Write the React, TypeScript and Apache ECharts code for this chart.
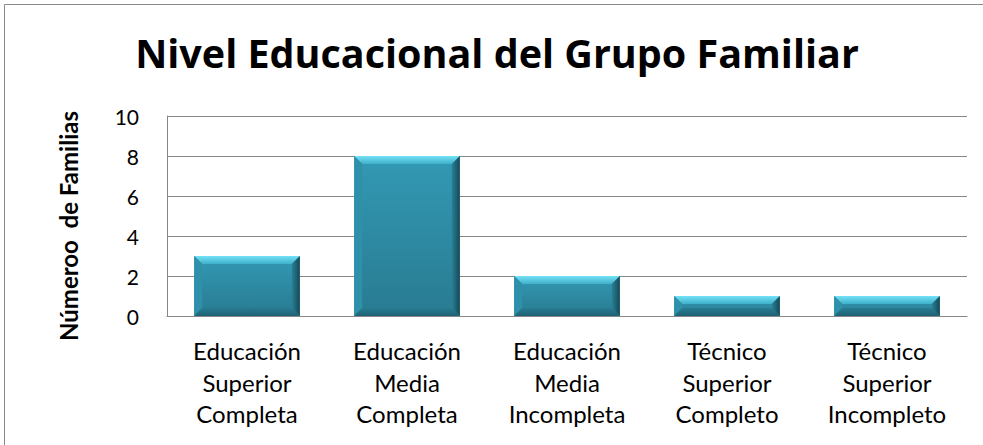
import React, { useEffect, useRef } from "react";
import * as echarts from "echarts";

const categories = [
  "Educación\nSuperior\nCompleta",
  "Educación\nMedia\nCompleta",
  "Educación\nMedia\nIncompleta",
  "Técnico\nSuperior\nCompleto",
  "Técnico\nSuperior\nIncompleto",
];
const values = [3, 8, 2, 1, 1];
const yTicks = [0, 2, 4, 6, 8, 10];

const titleText = "Nivel Educacional del Grupo Familiar";
const yName = "Númeroo  de Familias";

export default function App() {
  const ref = useRef<HTMLDivElement>(null);
  useEffect(() => {
    if (!ref.current) return;
    const chart = echarts.init(ref.current, null, { renderer: "svg" });
    const font = "Lato, 'Open Sans', sans-serif";
    chart.setOption({
      animation: false,
      backgroundColor: "#ffffff",
      graphic: [
        {
          type: "rect",
          shape: { x: 4.5, y: 4.5, width: 1200, height: 800 },
          style: { fill: "none", stroke: "#8a8a8a", lineWidth: 1 },
          silent: true,
        },
        {
          type: "text",
          x: 497,
          y: 53,
          style: {
            text: titleText,
            fontFamily: "'Open Sans', sans-serif",
            fontWeight: "bold",
            fontSize: 39.5,
            fill: "#000",
            align: "center",
            verticalAlign: "middle",
          },
        },
        {
          type: "text",
          x: 68,
          y: 226,
          rotation: Math.PI / 2,
          style: {
            text: yName,
            fontFamily: font,
            fontWeight: "bold",
            fontSize: 24,
            fill: "#000",
            align: "center",
            verticalAlign: "middle",
          },
        },
      ],
      grid: { left: 167, right: 16, top: 116, bottom: 129 },
      xAxis: {
        type: "category",
        data: categories,
        axisLine: { show: true, lineStyle: { color: "#868686" } },
        axisTick: { show: false },
        axisLabel: {
          interval: 0,
          margin: 19,
          fontFamily: font,
          fontSize: 24,
          lineHeight: 31.5,
          color: "#000",
        },
      },
      yAxis: {
        type: "value",
        min: 0,
        max: 10,
        interval: 2,
        axisLine: { show: true, lineStyle: { color: "#868686" } },
        axisTick: { show: false },
        splitLine: { show: true, lineStyle: { color: "#868686" } },
        axisLabel: {
          margin: 28,
          fontFamily: font,
          fontSize: 21,
          color: "#000",
          formatter: (v: number) => (yTicks.includes(v) ? String(v) : ""),
        },
      },
      series: [
        {
          type: "custom",
          data: values.map((v, i) => [i, v]),
          encode: { x: 0, y: 1 },
          renderItem: (params: any, api: any) => {
            const idx = api.value(0);
            const val = api.value(1);
            const top = api.coord([idx, val]);
            const base = api.coord([idx, 0]);
            const band = api.size([1, 0])[0];
            const w = band * 0.66;
            const x0 = top[0] - w / 2;
            const x1 = top[0] + w / 2;
            const y0 = top[1];
            const y1 = base[1];
            const h = y1 - y0;
            const b = Math.min(8, h / 2.5);
            return {
              type: "group",
              children: [
                {
                  type: "rect",
                  shape: { x: x0, y: y0, width: w, height: h },
                  style: {
                    fill: new echarts.graphic.LinearGradient(0, 0, 0, 1, [
                      { offset: 0, color: "#3399b4" },
                      { offset: 1, color: "#287b91" },
                    ]),
                  },
                },
                {
                  type: "polygon",
                  shape: { points: [[x0, y0], [x1, y0], [x1 - b, y0 + b], [x0 + b, y0 + b]] },
                  style: {
                    fill: new echarts.graphic.LinearGradient(0, 0, 0, 1, [
                      { offset: 0, color: "#74e2f6" },
                      { offset: 1, color: "#3fb0cb" },
                    ]),
                  },
                },
                {
                  type: "polygon",
                  shape: { points: [[x0, y0], [x0 + b, y0 + b], [x0 + b, y1 - b], [x0, y1]] },
                  style: { fill: "#2f90aa" },
                },
                {
                  type: "polygon",
                  shape: { points: [[x1, y0], [x1, y1], [x1 - b, y1 - b], [x1 - b, y0 + b]] },
                  style: {
                    fill: new echarts.graphic.LinearGradient(1, 0, 0, 0, [
                      { offset: 0, color: "#154a58" },
                      { offset: 1, color: "#2a7f96" },
                    ]),
                  },
                },
                {
                  type: "polygon",
                  shape: { points: [[x0, y1], [x1, y1], [x1 - b, y1 - b], [x0 + b, y1 - b]] },
                  style: {
                    fill: new echarts.graphic.LinearGradient(0, 1, 0, 0, [
                      { offset: 0, color: "#1f6274" },
                      { offset: 1, color: "#287b91" },
                    ]),
                  },
                },
              ],
            };
          },
        },
      ],
    });
    return () => chart.dispose();
  }, []);
  return (
    <div
      ref={ref}
      style={{ position: "fixed", left: 0, top: 0, width: 983, height: 445 }}
    />
  );
}
